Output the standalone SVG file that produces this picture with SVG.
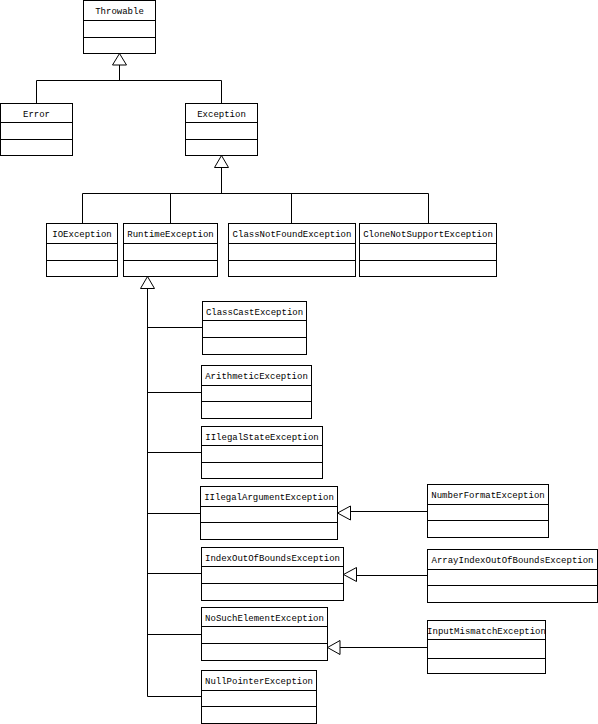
<svg xmlns="http://www.w3.org/2000/svg" width="598" height="724" viewBox="0 0 598 724">
<style>
rect{fill:#fff;stroke:#000;stroke-width:1}
.d{stroke:#000;stroke-width:1}
text{font-family:"Liberation Mono","DejaVu Sans Mono",monospace;font-size:9px;fill:#000;text-anchor:middle}
.c path,.c line{fill:none;stroke:#000;stroke-width:1}
.c polygon{fill:#fff;stroke:#000;stroke-width:1}
</style>
<rect x="0" y="0" width="598" height="724" style="stroke:none"/>
<g class="c" id="connectors">
<polyline points="119.5,65 119.5,80.5" style="fill:none;stroke:#000"/>
<path d="M36.5,103.5 V80.5 H221.5 V103.5"/>
<polygon points="119.5,53.5 112.5,65 126.5,65"/>
<path d="M221.5,167.5 V193.5"/>
<path d="M82.5,223.5 V193.5 H428.5 V223.5 M170.5,193.5 V223.5 M291.5,193.5 V223.5"/>
<polygon points="221.5,155.5 214.5,167.5 228.5,167.5"/>
<path d="M147.5,288.5 V696.5 H201.5 M147.5,327.5 H202.5 M147.5,392.5 H201.5 M147.5,452.5 H201.5 M147.5,513.5 H200.5 M147.5,573.5 H201.5 M147.5,634.5 H201.5"/>
<polygon points="147.5,276.5 140.5,288.5 154.5,288.5"/>
<path d="M427.5,511.5 H350.5"/>
<polygon points="337.5,513 350.5,506 350.5,520"/>
<path d="M427.5,575.5 H356.5"/>
<polygon points="343.5,574.5 356.5,567.5 356.5,581.5"/>
<path d="M427.5,647.5 H340"/>
<polygon points="327.5,647.5 340,640.5 340,654.5"/>
</g>
<g id="Throwable"><rect x="83.5" y="0.5" width="72" height="53"/><path class="d" d="M83.5,20.5H155.5M83.5,37.5H155.5"/><text x="119.5" y="14">Throwable</text></g>
<g id="Error"><rect x="0.5" y="103.5" width="72" height="52"/><path class="d" d="M0.5,122.5H72.5M0.5,139.5H72.5"/><text x="36.5" y="117">Error</text></g>
<g id="Exception"><rect x="185.5" y="103.5" width="72" height="52"/><path class="d" d="M185.5,122.5H257.5M185.5,139.5H257.5"/><text x="221.5" y="117">Exception</text></g>
<g id="IOException"><rect x="46.5" y="223.5" width="71" height="53"/><path class="d" d="M46.5,243.5H117.5M46.5,260.5H117.5"/><text x="82" y="237">IOException</text></g>
<g id="RuntimeException"><rect x="123.5" y="223.5" width="94" height="53"/><path class="d" d="M123.5,243.5H217.5M123.5,260.5H217.5"/><text x="170.5" y="237">RuntimeException</text></g>
<g id="ClassNotFoundException"><rect x="228.5" y="223.5" width="127" height="53"/><path class="d" d="M228.5,243.5H355.5M228.5,260.5H355.5"/><text x="292" y="237">ClassNotFoundException</text></g>
<g id="CloneNotSupportException"><rect x="359.5" y="223.5" width="137" height="53"/><path class="d" d="M359.5,243.5H496.5M359.5,260.5H496.5"/><text x="428" y="237">CloneNotSupportException</text></g>
<g id="ClassCastException"><rect x="202.5" y="301.5" width="104" height="53"/><path class="d" d="M202.5,320.5H306.5M202.5,337.5H306.5"/><text x="254.5" y="315">ClassCastException</text></g>
<g id="ArithmeticException"><rect x="201.5" y="365.5" width="110" height="53"/><path class="d" d="M201.5,385.5H311.5M201.5,401.5H311.5"/><text x="256.5" y="379">ArithmeticException</text></g>
<g id="IllegalStateException"><rect x="201.5" y="426.5" width="121" height="52"/><path class="d" d="M201.5,445.5H322.5M201.5,462.5H322.5"/><text x="262" y="440">IIlegalStateException</text></g>
<g id="IllegalArgumentException"><rect x="200.5" y="486.5" width="137" height="53"/><path class="d" d="M200.5,506.5H337.5M200.5,522.5H337.5"/><text x="269" y="500">IIlegalArgumentException</text></g>
<g id="IndexOutOfBoundsException"><rect x="201.5" y="547.5" width="142" height="53"/><path class="d" d="M201.5,566.5H343.5M201.5,583.5H343.5"/><text x="272.5" y="561">IndexOutOfBoundsException</text></g>
<g id="NoSuchElementException"><rect x="201.5" y="607.5" width="126" height="53"/><path class="d" d="M201.5,626.5H327.5M201.5,643.5H327.5"/><text x="264.5" y="621">NoSuchElementException</text></g>
<g id="NullPointerException"><rect x="201.5" y="670.5" width="115" height="53"/><path class="d" d="M201.5,690.5H316.5M201.5,706.5H316.5"/><text x="259" y="684">NullPointerException</text></g>
<g id="NumberFormatException"><rect x="427.5" y="484.5" width="121" height="53"/><path class="d" d="M427.5,504.5H548.5M427.5,520.5H548.5"/><text x="488" y="498">NumberFormatException</text></g>
<g id="ArrayIndexOutOfBoundsException"><rect x="427.5" y="549.5" width="170" height="53"/><path class="d" d="M427.5,569.5H597.5M427.5,585.5H597.5"/><text x="512.5" y="563">ArrayIndexOutOfBoundsException</text></g>
<g id="InputMismatchException"><rect x="427.5" y="620.5" width="118" height="53"/><path class="d" d="M427.5,639.5H545.5M427.5,658.5H545.5"/><text x="486.5" y="634">InputMismatchException</text></g>
</svg>
